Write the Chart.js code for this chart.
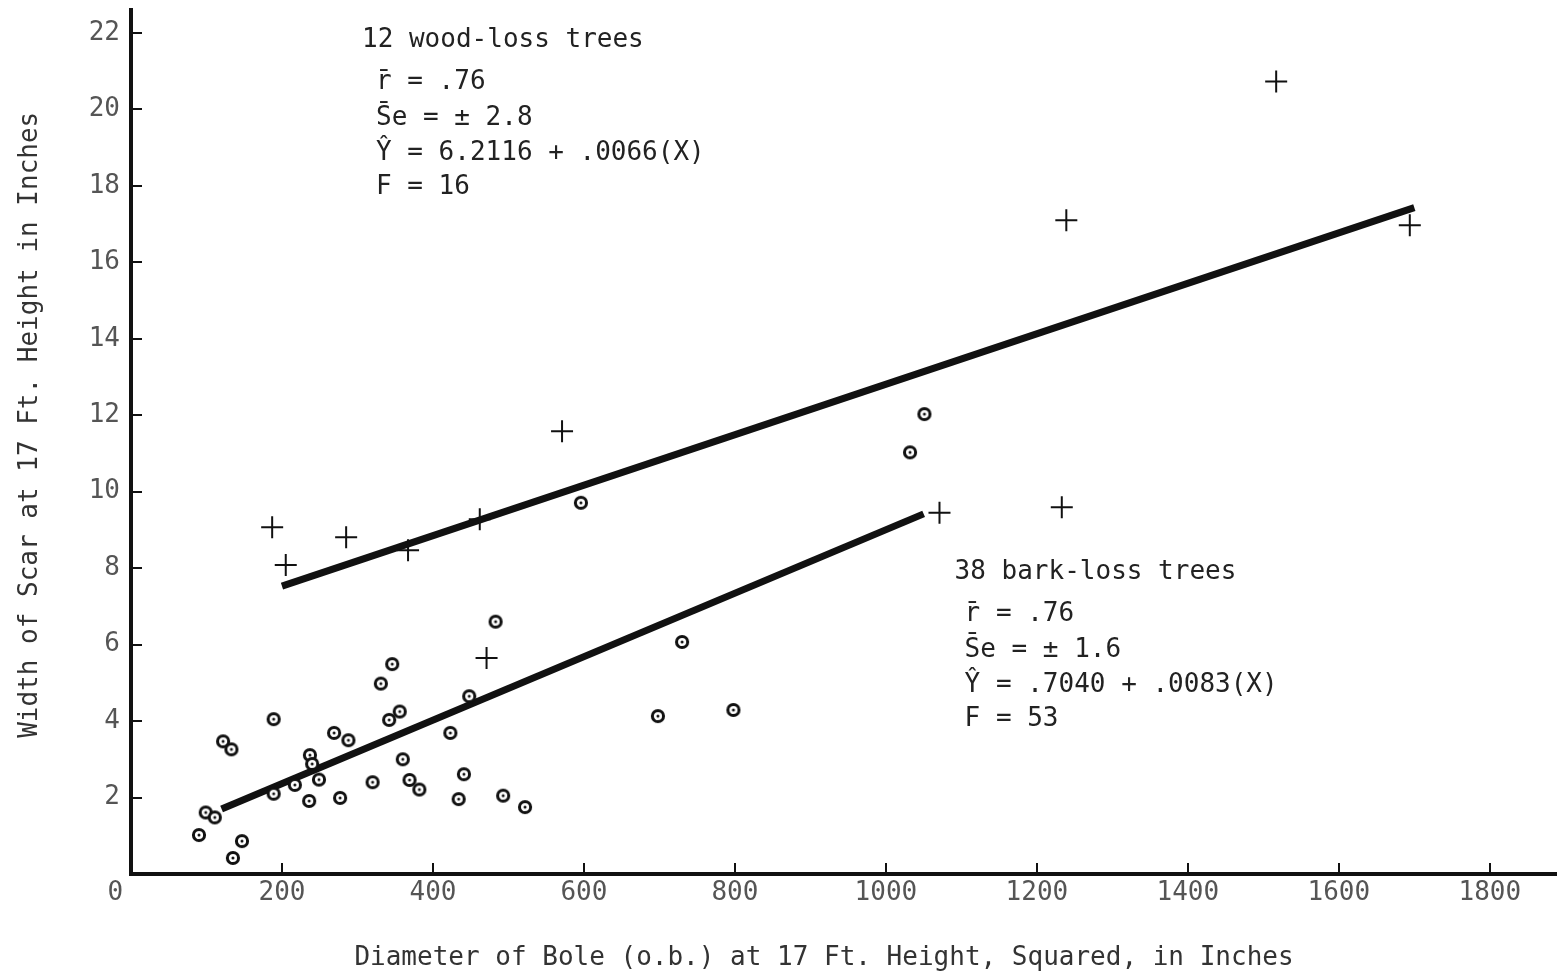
<!DOCTYPE html>
<html>
<head>
<meta charset="utf-8">
<title>Scar width vs. bole diameter squared</title>
<script src="https://cdn.jsdelivr.net/npm/chart.js@4.4.1/dist/chart.umd.min.js"></script>
<style>
  html, body { margin: 0; padding: 0; background: #ffffff; }
  #wrap { position: relative; width: 1557px; height: 973px; }
  canvas { display: block; }
</style>
</head>
<body>
<div id="wrap"><canvas id="chart" width="1557" height="973"></canvas></div>
<script>
// Wood-loss trees (plotted as crosses)
const woodX = [187, 205, 285, 367, 462, 571, 471, 1071, 1233, 1239, 1517, 1694];
const woodY = [9.07, 8.08, 8.81, 8.47, 9.28, 11.58, 5.65, 9.45, 9.59, 17.1, 20.73, 16.97];

// Bark-loss trees (plotted as ringed dots)
const barkX = [90, 99, 111, 135, 147, 122, 133, 189, 189, 217,
               236, 237, 240, 249, 269, 288, 277, 320, 331, 346,
               342, 356, 360, 369, 382, 423, 434, 441, 448, 483,
               493, 522, 596, 730, 698, 798, 1051, 1032];
const barkY = [1.02, 1.61, 1.48, 0.42, 0.86, 3.47, 3.26, 4.05, 2.10, 2.33,
               1.91, 3.11, 2.88, 2.47, 3.69, 3.50, 1.99, 2.40, 4.98, 5.49,
               4.03, 4.25, 3.00, 2.46, 2.21, 3.69, 1.96, 2.61, 4.65, 6.60,
               2.05, 1.75, 9.71, 6.07, 4.13, 4.29, 12.03, 11.03];

// Fitted regression lines (end points)
const woodFitX = [200, 1700];
const woodFitY = [7.53, 17.43];
const barkFitX = [120, 1050];
const barkFitY = [1.70, 9.42];

// Axis ticks
const xTicks = [0, 200, 400, 600, 800, 1000, 1200, 1400, 1600, 1800];
const yTicks = [2, 4, 6, 8, 10, 12, 14, 16, 18, 20, 22];

// Text
const xTitle = 'Diameter of Bole (o.b.) at 17 Ft. Height, Squared, in Inches';
const yTitle = 'Width of Scar at 17 Ft. Height in Inches';
const woodNote = ['12 wood-loss trees', 'r\u0304 = .76', 'S\u0304e = \u00b1 2.8', '\u0176 = 6.2116 + .0066(X)', 'F = 16'];
const barkNote = ['38 bark-loss trees', 'r\u0304 = .76', 'S\u0304e = \u00b1 1.6', '\u0176 = .7040 + .0083(X)', 'F = 53'];

const FONT = '"DejaVu Sans Mono", "Liberation Mono", monospace';
const INK = '#111111';

function toPoints(xs, ys) {
  return xs.map((x, i) => ({ x: x, y: ys[i] }));
}

// Ring with a centre dot, used as the bark-loss marker
function ringMarker() {
  const c = document.createElement('canvas');
  c.width = 18; c.height = 18;
  const g = c.getContext('2d');
  g.fillStyle = '#ffffff';
  g.strokeStyle = INK;
  g.lineWidth = 3;
  g.beginPath(); g.arc(9, 9, 5.6, 0, Math.PI * 2); g.fill(); g.stroke();
  g.fillStyle = INK;
  g.beginPath(); g.arc(9, 9, 1.5, 0, Math.PI * 2); g.fill();
  return c;
}

// Inward tick marks, notes and axis titles
const decorations = {
  id: 'decorations',
  afterDraw(chart) {
    const { ctx, chartArea, scales } = chart;
    const xs = scales.x, ys = scales.y;
    ctx.save();
    ctx.strokeStyle = INK;
    ctx.lineWidth = 2;
    ctx.beginPath();
    xs.ticks.forEach(t => {
      if (t.value === 0) return;
      const px = Math.round(xs.getPixelForValue(t.value));
      ctx.moveTo(px, chartArea.bottom);
      ctx.lineTo(px, chartArea.bottom - 11);
    });
    ys.ticks.forEach(t => {
      if (t.value === 0) return;
      const py = Math.round(ys.getPixelForValue(t.value));
      ctx.moveTo(chartArea.left, py);
      ctx.lineTo(chartArea.left + 11, py);
    });
    ctx.stroke();

    ctx.font = '26px ' + FONT;
    ctx.textBaseline = 'middle';
    ctx.textAlign = 'left';
    ctx.fillStyle = '#222222';
    const lineOffsets = [0, 42, 78, 113, 147];
    const drawNote = (lines, ax, ay, indent) => {
      const px = xs.getPixelForValue(ax);
      const py = ys.getPixelForValue(ay);
      lines.forEach((s, i) => {
        ctx.fillText(s, px + (i === 0 ? 0 : indent), py + lineOffsets[i]);
      });
    };
    drawNote(woodNote, 306, 21.8, 14);
    drawNote(barkNote, 1091, 7.9, 10);

    ctx.fillStyle = '#333333';
    ctx.textAlign = 'center';
    ctx.fillText(xTitle, xs.getPixelForValue(918), 958);
    ctx.translate(30, ys.getPixelForValue(11.75));
    ctx.rotate(-Math.PI / 2);
    ctx.fillText(yTitle, 0, 0);
    ctx.restore();
  }
};

new Chart(document.getElementById('chart'), {
  type: 'scatter',
  data: {
    datasets: [
      {
        label: 'Wood-loss trees',
        data: toPoints(woodX, woodY),
        pointStyle: 'cross',
        pointRadius: 11,
        pointBorderWidth: 2,
        borderColor: INK,
        backgroundColor: INK,
        order: 1
      },
      {
        label: 'Bark-loss trees',
        data: toPoints(barkX, barkY),
        pointStyle: ringMarker(),
        pointRadius: 8,
        order: 1
      },
      {
        label: 'Wood-loss fit',
        type: 'line',
        data: toPoints(woodFitX, woodFitY),
        borderColor: INK,
        borderWidth: 7,
        borderCapStyle: 'butt',
        pointRadius: 0,
        fill: false,
        order: 2
      },
      {
        label: 'Bark-loss fit',
        type: 'line',
        data: toPoints(barkFitX, barkFitY),
        borderColor: INK,
        borderWidth: 7,
        borderCapStyle: 'butt',
        pointRadius: 0,
        fill: false,
        order: 2
      }
    ]
  },
  options: {
    responsive: false,
    animation: false,
    events: [],
    layout: { autoPadding: false, padding: { top: 10, right: 0, bottom: 0, left: 0 } },
    plugins: {
      legend: { display: false },
      tooltip: { enabled: false }
    },
    scales: {
      x: {
        type: 'linear',
        min: 0,
        max: 1889,
        afterBuildTicks: s => { s.ticks = xTicks.map(v => ({ value: v })); },
        afterFit: s => {
          s.height = 99;
          s.paddingLeft = 0; s.paddingRight = 0;
          s.paddingTop = 0; s.paddingBottom = 0;
        },
        grid: { display: false, drawTicks: false },
        border: { display: true, width: 4, color: INK },
        ticks: {
          autoSkip: false,
          maxRotation: 0,
          padding: 4,
          color: '#555555',
          font: { family: FONT, size: 26, lineHeight: 1.15 },
          callback: v => (v === 0 ? '0  ' : String(v))
        }
      },
      y: {
        type: 'linear',
        min: 0,
        max: 22.6,
        afterBuildTicks: s => { s.ticks = yTicks.map(v => ({ value: v })); },
        afterFit: s => {
          s.width = 131;
          s.paddingLeft = 0; s.paddingRight = 0;
          s.paddingTop = 0; s.paddingBottom = 0;
        },
        grid: { display: false, drawTicks: false },
        border: { display: true, width: 4, color: INK },
        ticks: {
          autoSkip: false,
          padding: 11,
          color: '#555555',
          font: { family: FONT, size: 26, lineHeight: 1.15 },
          callback: v => String(v)
        }
      }
    }
  },
  plugins: [decorations]
});
</script>
</body>
</html>
